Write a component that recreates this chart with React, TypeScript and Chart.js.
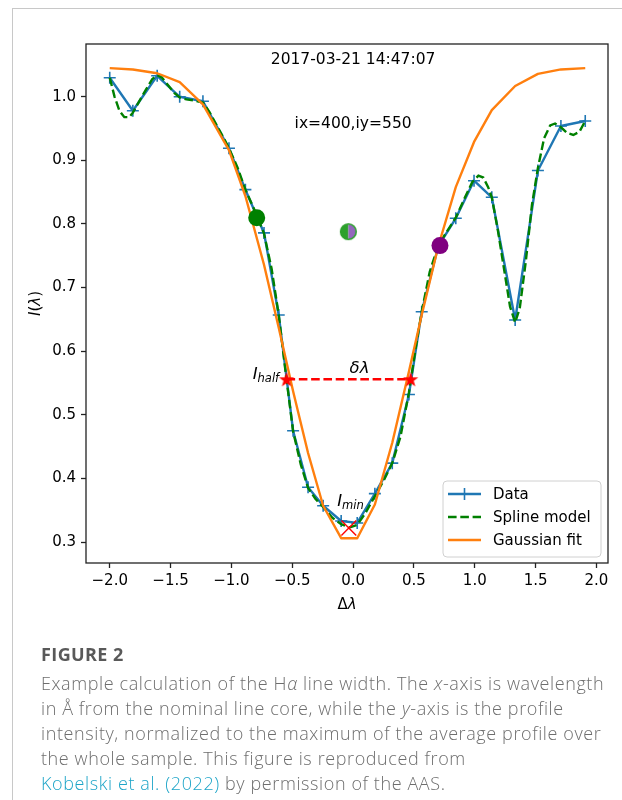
import React, { useEffect, useRef } from 'react';
import { Chart, registerables } from 'chart.js';

Chart.register(...registerables);

// Observed H-alpha profile (wavelength offset in Å, normalized intensity)
const DATA_X = [-2.0, -1.81, -1.61, -1.425, -1.234, -1.02, -0.885, -0.732, -0.611, -0.493, -0.37, -0.246, -0.098, 0.034, 0.179, 0.322, 0.459, 0.564, 0.70, 0.844, 0.994, 1.14, 1.332, 1.519, 1.708, 1.908];
const DATA_Y = [1.030, 0.978, 1.033, 1.000, 0.993, 0.919, 0.854, 0.786, 0.657, 0.475, 0.386, 0.357, 0.333, 0.330, 0.376, 0.424, 0.532, 0.662, 0.765, 0.809, 0.868, 0.842, 0.649, 0.884, 0.954, 0.962];

// Gaussian fit evaluated at the observed wavelengths
const GAUSS_Y = [1.045, 1.043, 1.037, 1.023, 0.988, 0.916, 0.844, 0.736, 0.637, 0.537, 0.440, 0.357, 0.306, 0.306, 0.359, 0.456, 0.568, 0.657, 0.765, 0.858, 0.929, 0.979, 1.017, 1.036, 1.043, 1.045];

// Spline model of the profile
const SPLINE_X = [-2.0, -1.96, -1.92, -1.88, -1.84, -1.81, -1.76, -1.70, -1.65, -1.61, -1.57, -1.52, -1.47, -1.425, -1.37, -1.30, -1.234, -1.18, -1.12, -1.06, -1.02, -0.95, -0.885, -0.81, -0.732, -0.67, -0.611, -0.55, -0.493, -0.43, -0.37, -0.31, -0.246, -0.17, -0.098, -0.03, 0.034, 0.10, 0.179, 0.25, 0.322, 0.39, 0.459, 0.51, 0.564, 0.63, 0.70, 0.77, 0.844, 0.92, 0.98, 1.03, 1.07, 1.11, 1.14, 1.19, 1.24, 1.29, 1.332, 1.37, 1.42, 1.47, 1.519, 1.57, 1.62, 1.66, 1.708, 1.76, 1.81, 1.86, 1.908];
const SPLINE_Y = [1.030, 1.000, 0.978, 0.968, 0.968, 0.975, 0.992, 1.012, 1.028, 1.034, 1.030, 1.018, 1.006, 0.999, 0.996, 0.994, 0.991, 0.976, 0.955, 0.934, 0.919, 0.889, 0.854, 0.822, 0.785, 0.730, 0.657, 0.560, 0.474, 0.422, 0.385, 0.368, 0.355, 0.338, 0.328, 0.323, 0.327, 0.345, 0.372, 0.396, 0.424, 0.466, 0.535, 0.600, 0.662, 0.725, 0.766, 0.788, 0.810, 0.842, 0.866, 0.876, 0.873, 0.858, 0.842, 0.790, 0.730, 0.670, 0.645, 0.668, 0.742, 0.830, 0.888, 0.935, 0.955, 0.958, 0.952, 0.943, 0.940, 0.945, 0.962];

// Line-width measurement
const HALF_X = [-0.547, 0.473];
const I_HALF = 0.556;
const MIN_X = -0.035;
const I_MIN = 0.322;
const BLUE_WING_POINT = { x: -0.792, y: 0.810 };
const RED_WING_POINT = { x: 0.714, y: 0.766 };
const BISECTOR_POINT = { x: -0.039, y: 0.788 };

const X_TICKS = [-2.0, -1.5, -1.0, -0.5, 0.0, 0.5, 1.0, 1.5, 2.0];
const Y_TICKS = [0.3, 0.4, 0.5, 0.6, 0.7, 0.8, 0.9, 1.0];
const X_RANGE = [-2.195, 2.095];
const Y_RANGE = [0.267, 1.083];

const OBS_TIME = '2017-03-21 14:47:07';
const PIXEL_LABEL = 'ix=400,iy=550';
const LEGEND_LABELS = ['Data', 'Spline model', 'Gaussian fit'];

const BLUE = '#1f77b4';
const GREEN = '#008000';
const ORANGE = '#ff7f0e';
const FONT = '"DejaVu Sans", sans-serif';
const LW = 2.4;
const DASH = [8.6, 3.7];

function starImage(r: number, color: string) {
  const size = Math.ceil(r * 2 + 2);
  const c = document.createElement('canvas');
  c.width = size;
  c.height = size;
  const g = c.getContext('2d')!;
  g.translate(size / 2, size / 2 + 0.8);
  g.beginPath();
  for (let i = 0; i < 10; i++) {
    const rad = i % 2 === 0 ? r : r * 0.4;
    const a = -Math.PI / 2 + (i * Math.PI) / 5;
    g.lineTo(rad * Math.cos(a), rad * Math.sin(a));
  }
  g.closePath();
  g.fillStyle = color;
  g.fill();
  return c;
}

function halfDotImage(r: number, left: string, right: string) {
  const size = Math.ceil(r * 2 + 3);
  const c = document.createElement('canvas');
  c.width = size;
  c.height = size;
  const g = c.getContext('2d')!;
  const m = size / 2;
  g.beginPath();
  g.arc(m, m, r, Math.PI / 2, (3 * Math.PI) / 2);
  g.closePath();
  g.fillStyle = left;
  g.fill();
  g.beginPath();
  g.arc(m, m, r, -Math.PI / 2, Math.PI / 2);
  g.closePath();
  g.fillStyle = right;
  g.fill();
  g.beginPath();
  g.arc(m, m, r, 0, Math.PI * 2);
  g.lineWidth = 1.6;
  g.strokeStyle = left;
  g.stroke();
  return c;
}

type Seg = { t: string; font: string; dy?: number };

function drawSegs(ctx: CanvasRenderingContext2D, segs: Seg[], x: number, y: number, center = false) {
  let w = 0;
  for (const s of segs) {
    ctx.font = s.font;
    w += ctx.measureText(s.t).width;
  }
  let cx = center ? x - w / 2 : x;
  ctx.textAlign = 'left';
  for (const s of segs) {
    ctx.font = s.font;
    ctx.fillText(s.t, cx, y + (s.dy || 0));
    cx += ctx.measureText(s.t).width;
  }
}

const tickFmt = (v: number) => {
  const s = Math.abs(v).toFixed(1);
  return v < -1e-9 ? '\u2212' + s : s;
};

const overlay = {
  id: 'overlay',
  afterDraw(chart: any) {
    const { ctx, chartArea: a, scales } = chart;
    const x = scales.x;
    const y = scales.y;
    ctx.save();

    // axes frame
    ctx.strokeStyle = '#222';
    ctx.lineWidth = 1.3;
    ctx.strokeRect(a.left, a.top, a.right - a.left, a.bottom - a.top);

    ctx.fillStyle = '#000';
    ctx.textBaseline = 'middle';
    ctx.textAlign = 'center';
    ctx.font = `15.5px ${FONT}`;
    ctx.fillText(OBS_TIME, x.getPixelForValue(0), y.getPixelForValue(1.058));
    ctx.fillText(PIXEL_LABEL, x.getPixelForValue(0), y.getPixelForValue(0.9575));

    // measurement labels
    ctx.textBaseline = 'alphabetic';
    const it = `italic 16.5px ${FONT}`;
    const sub = `italic 11.5px ${FONT}`;
    drawSegs(ctx, [{ t: 'I', font: it }, { t: 'half', font: sub, dy: 2.5 }],
      x.getPixelForValue(HALF_X[0] - 0.278), y.getPixelForValue(I_HALF));
    drawSegs(ctx, [{ t: 'δλ', font: it }],
      x.getPixelForValue((HALF_X[0] + HALF_X[1]) / 2 + 0.008), y.getPixelForValue(I_HALF + 0.01));
    drawSegs(ctx, [{ t: 'I', font: it }, { t: 'min', font: sub, dy: 2.5 }],
      x.getPixelForValue(MIN_X - 0.096), y.getPixelForValue(I_MIN + 0.034));

    // axis titles
    const up = `15px ${FONT}`;
    const itl = `italic 15px ${FONT}`;
    ctx.textBaseline = 'middle';
    drawSegs(ctx, [{ t: 'Δ', font: up }, { t: 'λ', font: itl }], (a.left + a.right) / 2, 605, true);
    ctx.save();
    ctx.translate(36, (a.top + a.bottom) / 2);
    ctx.rotate(-Math.PI / 2);
    drawSegs(ctx, [{ t: 'I', font: itl }, { t: '(', font: up }, { t: 'λ', font: itl }, { t: ')', font: up }], 0, 0, true);
    ctx.restore();

    // legend
    const bw = 158;
    const bh = 76;
    const bx = a.right - 7 - bw;
    const by = a.bottom - 6 - bh;
    ctx.beginPath();
    ctx.roundRect(bx, by, bw, bh, 4);
    ctx.fillStyle = 'rgba(255,255,255,0.85)';
    ctx.fill();
    ctx.strokeStyle = '#d0d0d0';
    ctx.lineWidth = 1;
    ctx.stroke();
    const rows = [by + 13, by + 36, by + 59];
    const styles = [
      { c: BLUE, dash: [] as number[] },
      { c: GREEN, dash: DASH },
      { c: ORANGE, dash: [] as number[] },
    ];
    rows.forEach((ry, i) => {
      ctx.beginPath();
      ctx.setLineDash(styles[i].dash);
      ctx.strokeStyle = styles[i].c;
      ctx.lineWidth = LW;
      ctx.moveTo(bx + 5, ry);
      ctx.lineTo(bx + 38, ry);
      ctx.stroke();
      ctx.setLineDash([]);
      if (i === 0) {
        ctx.lineWidth = 1.6;
        ctx.beginPath();
        ctx.moveTo(bx + 21.5, ry - 6);
        ctx.lineTo(bx + 21.5, ry + 6);
        ctx.stroke();
      }
      ctx.fillStyle = '#000';
      ctx.font = `15px ${FONT}`;
      ctx.textAlign = 'left';
      ctx.textBaseline = 'middle';
      ctx.fillText(LEGEND_LABELS[i], bx + 50, ry + 1);
    });
    ctx.restore();
  },
};

export default function App() {
  const ref = useRef<HTMLCanvasElement>(null);

  useEffect(() => {
    const pts = (xs: number[], ys: number[]) => xs.map((v, i) => ({ x: v, y: ys[i] }));
    const star = starImage(8, '#ff0000');
    const halfDot = halfDotImage(7.8, '#2ca02c', '#9467bd');

    const axisCommon = {
      type: 'linear' as const,
      border: { display: false },
      grid: { drawOnChartArea: false, drawTicks: true, tickLength: 5, tickColor: '#222', tickWidth: 1.3 },
    };

    const chart = new Chart(ref.current!, {
      type: 'scatter',
      data: {
        datasets: [
          {
            data: [BLUE_WING_POINT],
            pointStyle: 'circle',
            pointRadius: 8.5,
            pointBackgroundColor: GREEN,
            pointBorderColor: GREEN,
            pointBorderWidth: 0,
            order: 0,
          },
          {
            data: [RED_WING_POINT],
            pointStyle: 'circle',
            pointRadius: 8.5,
            pointBackgroundColor: '#800080',
            pointBorderColor: '#800080',
            pointBorderWidth: 0,
            order: 0,
          },
          {
            data: [BISECTOR_POINT],
            pointStyle: halfDot,
            order: 0,
          },
          {
            data: [{ x: MIN_X, y: I_MIN }],
            pointStyle: 'crossRot',
            pointRadius: 10.5,
            pointBorderColor: '#ff0000',
            pointBorderWidth: 1.4,
            order: 0,
          },
          {
            data: HALF_X.map((v) => ({ x: v, y: I_HALF })),
            showLine: true,
            borderColor: '#ff0000',
            borderWidth: LW,
            borderDash: DASH,
            pointStyle: star,
            order: 1,
          },
          {
            data: pts(DATA_X, GAUSS_Y),
            showLine: true,
            borderColor: ORANGE,
            borderWidth: LW,
            borderJoinStyle: 'round',
            pointRadius: 0,
            order: 2,
          },
          {
            data: pts(SPLINE_X, SPLINE_Y),
            showLine: true,
            borderColor: GREEN,
            borderWidth: LW,
            borderDash: DASH,
            pointRadius: 0,
            order: 3,
          },
          {
            data: pts(DATA_X, DATA_Y),
            showLine: true,
            borderColor: BLUE,
            borderWidth: LW,
            borderJoinStyle: 'round',
            pointStyle: 'cross',
            pointRadius: 6,
            pointBorderWidth: 1.6,
            pointBorderColor: BLUE,
            order: 4,
          },
        ],
      },
      options: {
        responsive: false,
        animation: false,
        devicePixelRatio: 1,
        events: [],
        layout: { padding: { top: 44, right: 14, left: 0, bottom: 0 } },
        plugins: { legend: { display: false }, tooltip: { enabled: false } },
        scales: {
          x: {
            ...axisCommon,
            min: X_RANGE[0],
            max: X_RANGE[1],
            afterBuildTicks: (s: any) => {
              s.ticks = X_TICKS.map((v) => ({ value: v }));
            },
            afterFit: (s: any) => {
              s.height = 67;
            },
            ticks: {
              autoSkip: false,
              maxRotation: 0,
              minRotation: 0,
              padding: 4,
              color: '#000',
              font: { family: FONT, size: 15 },
              callback: (v: any) => tickFmt(Number(v)),
            },
          },
          y: {
            ...axisCommon,
            min: Y_RANGE[0],
            max: Y_RANGE[1],
            afterBuildTicks: (s: any) => {
              s.ticks = Y_TICKS.map((v) => ({ value: v }));
            },
            afterFit: (s: any) => {
              s.width = 86;
            },
            ticks: {
              autoSkip: false,
              padding: 5,
              color: '#000',
              font: { family: FONT, size: 15 },
              callback: (v: any) => tickFmt(Number(v)),
            },
          },
        },
      },
      plugins: [overlay],
    } as any);
    return () => chart.destroy();
  }, []);

  const cap: React.CSSProperties = {
    position: 'absolute',
    left: 41,
    fontFamily: '"Open Sans", sans-serif',
    fontWeight: 300,
    fontSize: 18,
    letterSpacing: '0.6px',
    color: '#6e6e6e',
    whiteSpace: 'nowrap',
    lineHeight: '25px',
  };

  return (
    <div style={{ position: 'fixed', left: 0, top: 0, width: 622, height: 800, background: '#fff', overflow: 'hidden' }}>
      <div style={{ position: 'absolute', left: 0, top: 0, width: 622, height: 630 }}>
        <canvas ref={ref} width={622} height={630} style={{ display: 'block', width: 622, height: 630 }} />
      </div>
      <div
        style={{
          position: 'absolute',
          left: 12,
          top: 8,
          width: 620,
          height: 800,
          borderLeft: '1px solid #c8c8c8',
          borderTop: '1px solid #c8c8c8',
          pointerEvents: 'none',
        }}
      />
      <div style={{ ...cap, top: 641.5, fontWeight: 700, fontSize: 18, letterSpacing: '0.4px', color: '#595959' }}>FIGURE 2</div>
      <div style={{ ...cap, top: 671 }}>
        Example calculation of the H<i>α</i> line width. The <i>x</i>-axis is wavelength
        <br />
        in Å from the nominal line core, while the <i>y</i>-axis is the profile
        <br />
        intensity, normalized to the maximum of the average profile over
        <br />
        the whole sample. This figure is reproduced from
        <br />
        <span style={{ color: '#1ea5c8' }}>Kobelski et al. (2022)</span> by permission of the AAS.
      </div>
    </div>
  );
}
